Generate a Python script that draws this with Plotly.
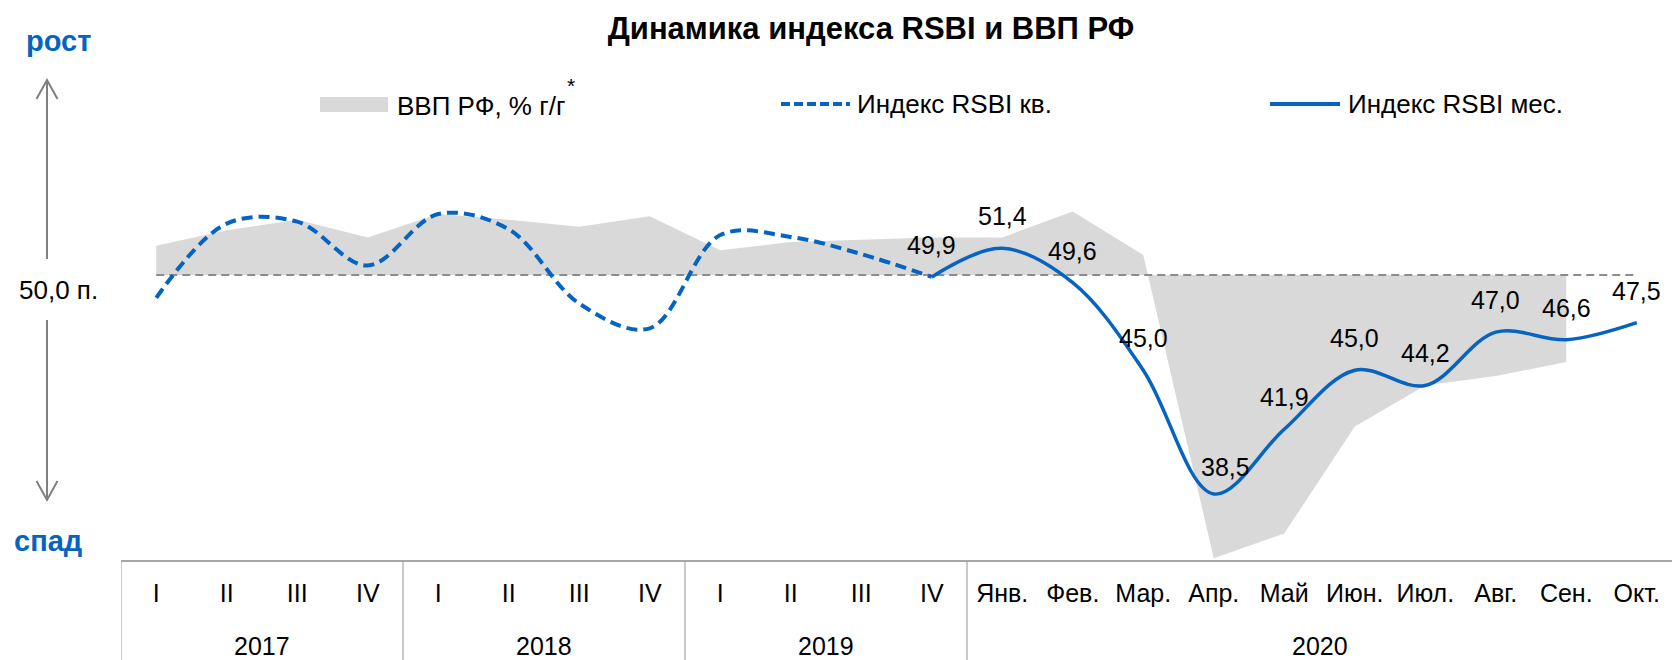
import plotly.graph_objects as go

# ---------------- data ----------------
years = ["2017", "2018", "2019", "2020"]
quarter_labels = ["I", "II", "III", "IV"]
month_labels = ["Янв.", "Фев.", "Мар.", "Апр.", "Май", "Июн.", "Июл.", "Авг.", "Сен.", "Окт."]

# category list: (year, label)
categories = [(y, q) for y in years[:3] for q in quarter_labels] + [("2020", m) for m in month_labels]

# GDP, % y/y (quarters 2017-2019, months Jan-Sep 2020)
gdp = [1.25, 1.9, 2.35, 1.6, 2.6, 2.35, 2.05, 2.5, 1.05, 1.4, 1.5, 1.6,
       1.6, 2.7, 0.85, -12.05, -11.0, -6.45, -4.7, -4.3, -3.7]

# RSBI quarterly (2017 I - 2019 IV)
rsbi_q = [48.8, 52.7, 52.8, 50.5, 53.2, 52.4, 48.5, 47.2, 52.1, 52.0, 51.1, 49.9]
# RSBI monthly 2020 (Jan - Oct)
rsbi_m = [51.4, 49.6, 45.0, 38.5, 41.9, 45.0, 44.2, 47.0, 46.6, 47.5]

threshold = 50.0

# ---------------- geometry / style ----------------
W, H = 1672, 660
L, R, T, B = 121, 0, 170, 100
PW, PH = W - L - R, H - T - B
BASE_PX = 275           # pixel row of the 50 line
IDX_PX = 19.04          # px per index point
GDP_PX = 23.5           # px per GDP %
BLUE = "#0563C1"
GRAY_AREA = "#D9D9D9"
FONT = "Liberation Sans, Arial, sans-serif"

def px_x(px):
    return (px - L) / PW

def px_y(py):
    return (H - B - py) / PH

below = (H - B) - BASE_PX
above = BASE_PX - T
idx_range = [threshold - below / IDX_PX, threshold + above / IDX_PX]
gdp_range = [-below / GDP_PX, above / GDP_PX]

xi = list(range(len(categories)))
n_q = len(rsbi_q)
x_q = xi[:n_q]
x_m = [x_q[-1]] + xi[n_q:n_q + len(rsbi_m)]
y_m = [rsbi_q[-1]] + rsbi_m
x_gdp = xi[:len(gdp)]

fig = go.Figure()

# GDP area (primary axis, drawn underneath)
fig.add_trace(go.Scatter(
    x=x_gdp, y=gdp, mode="lines", fill="tozeroy", fillcolor=GRAY_AREA,
    line=dict(width=0, color=GRAY_AREA), name="ВВП РФ, % г/г", yaxis="y",
    showlegend=False, hoverinfo="skip"))

# 50 threshold line
fig.add_trace(go.Scatter(
    x=[xi[0], xi[-1]], y=[threshold, threshold], mode="lines",
    line=dict(color="#8C8C8C", width=2, dash="8px,5px"), yaxis="y2",
    showlegend=False, hoverinfo="skip"))

# RSBI quarterly, dashed
fig.add_trace(go.Scatter(
    x=x_q, y=rsbi_q, mode="lines", line=dict(color=BLUE, width=4, dash="11px,6px",
                                              shape="spline", smoothing=1.0),
    yaxis="y2", name="Индекс RSBI кв.", showlegend=False))

# RSBI monthly, solid
fig.add_trace(go.Scatter(
    x=x_m, y=y_m, mode="lines", line=dict(color=BLUE, width=3.5, shape="spline", smoothing=1.0),
    yaxis="y2", name="Индекс RSBI мес.", showlegend=False))

annotations = []
shapes = []

# data labels
for k, (x, y) in enumerate(zip(x_m, y_m)):
    txt = f"{y:.1f}".replace(".", ",")
    xs, ys = 0, 32
    if y == min(y_m):
        xs, ys = 12, 27
    annotations.append(dict(x=x, y=y, xref="x", yref="y2", text=txt, showarrow=False,
                            xanchor="center", yanchor="middle", xshift=xs, yshift=ys,
                            font=dict(size=25, color="#000000", family=FONT)))

# year labels + dividers
for yv in years:
    members = [i for i, c in enumerate(categories) if c[0] == yv]
    center = (members[0] + members[-1]) / 2
    annotations.append(dict(x=center, y=px_y(646), xref="x", yref="paper", text=yv,
                            showarrow=False, xanchor="center", yanchor="middle",
                            font=dict(size=25, color="#000000", family=FONT)))
    shapes.append(dict(type="line", xref="x", yref="paper", x0=members[0] - 0.5, x1=members[0] - 0.5,
                       y0=0, y1=px_y(H), line=dict(color="#A6A6A6", width=1.2)))

# left-side labels
annotations += [
    dict(x=px_x(58), y=px_y(41), xref="paper", yref="paper", text="<b>рост</b>", showarrow=False,
         xanchor="center", yanchor="middle", font=dict(size=29, color=BLUE, family=FONT)),
    dict(x=px_x(48), y=px_y(541), xref="paper", yref="paper", text="<b>спад</b>", showarrow=False,
         xanchor="center", yanchor="middle", font=dict(size=29, color=BLUE, family=FONT)),
    dict(x=px_x(58), y=px_y(290), xref="paper", yref="paper", text="50,0 п.", showarrow=False,
         xanchor="center", yanchor="middle", font=dict(size=26, color="#000000", family=FONT)),
]

# arrows
def arrow_path(x, y_from, y_tip, wing_dx, wing_dy):
    return (f"M {px_x(x)},{px_y(y_from)} L {px_x(x)},{px_y(y_tip)} "
            f"M {px_x(x - wing_dx)},{px_y(y_tip + wing_dy)} L {px_x(x)},{px_y(y_tip)} "
            f"L {px_x(x + wing_dx)},{px_y(y_tip + wing_dy)}")

shapes.append(dict(type="path", xref="paper", yref="paper", path=arrow_path(47, 259, 80, 10.5, 19),
                   line=dict(color="#808080", width=2)))
shapes.append(dict(type="path", xref="paper", yref="paper", path=arrow_path(47, 320, 500, 10.5, -19),
                   line=dict(color="#808080", width=2)))

# manual legend
shapes.append(dict(type="rect", xref="paper", yref="paper", x0=px_x(320), x1=px_x(388),
                   y0=px_y(112), y1=px_y(97), fillcolor=GRAY_AREA, line=dict(width=0)))
shapes.append(dict(type="line", xref="paper", yref="paper", x0=px_x(781), x1=px_x(850),
                   y0=px_y(104), y1=px_y(104), line=dict(color=BLUE, width=4, dash="9px,4px")))
shapes.append(dict(type="line", xref="paper", yref="paper", x0=px_x(1270), x1=px_x(1340),
                   y0=px_y(104), y1=px_y(104), line=dict(color=BLUE, width=4)))
legend_texts = [(395, 106, "ВВП РФ, % г/г"), (855, 104, "Индекс RSBI кв."), (1346, 104, "Индекс RSBI мес.")]
for lx, ly, t in legend_texts:
    annotations.append(dict(x=px_x(lx), y=px_y(ly), xref="paper", yref="paper", text=t, showarrow=False,
                            xanchor="left", yanchor="middle", font=dict(size=26, color="#000000", family=FONT)))
annotations.append(dict(x=px_x(571), y=px_y(85), xref="paper", yref="paper", text="*", showarrow=False,
                        xanchor="center", yanchor="middle", font=dict(size=21, color="#000000", family=FONT)))

fig.update_layout(
    width=W, height=H,
    margin=dict(l=L, r=R, t=T, b=B, autoexpand=False),
    paper_bgcolor="white", plot_bgcolor="white",
    title=dict(text="<b>Динамика индекса RSBI и ВВП РФ</b>", x=871 / W, y=1 - 28 / H,
               xanchor="center", yanchor="middle", font=dict(size=31, color="#000000", family=FONT)),
    xaxis=dict(range=[-0.5, len(categories) - 0.5], tickvals=xi, ticktext=[c[1] for c in categories],
               showgrid=False, zeroline=False, showline=True, linecolor="#A6A6A6", linewidth=1.5,
               ticks="outside", ticklen=10, tickcolor="rgba(0,0,0,0)", automargin=False,
               tickfont=dict(size=25, color="#000000", family=FONT)),
    yaxis=dict(range=gdp_range, visible=False, fixedrange=True, automargin=False),
    yaxis2=dict(range=idx_range, visible=False, overlaying="y", fixedrange=True, automargin=False),
    showlegend=False,
    annotations=annotations,
    shapes=shapes,
)

fig.write_html("out.html", config={"displayModeBar": False},
               post_script="document.body.style.margin='0';document.body.style.overflow='hidden';")
